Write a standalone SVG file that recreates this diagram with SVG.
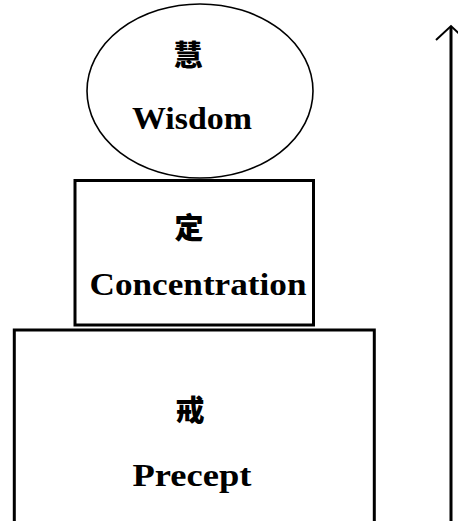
<svg xmlns="http://www.w3.org/2000/svg" width="458" height="521" viewBox="0 0 458 521">
<style>
.box{fill:#fff;stroke:#000;stroke-width:3}
.en{font-family:"Liberation Serif","Times New Roman",serif;font-weight:bold;font-size:32px;fill:#000;text-anchor:middle}
.zh{font-family:"Noto Sans CJK SC","Noto Sans CJK TC",sans-serif;font-weight:900;font-size:29px;fill:#000;text-anchor:middle}
</style>
<rect width="458" height="521" fill="#fff"/>
<g id="precept">
<rect class="box" x="14.3" y="330" width="360" height="220"/>
<text class="zh" x="190" y="421">戒</text>
<text class="en" x="192" y="486" textLength="119" lengthAdjust="spacingAndGlyphs">Precept</text>
</g>
<g id="concentration">
<rect class="box" x="75" y="180.5" width="238.5" height="144.5"/>
<text class="zh" x="189" y="239">定</text>
<text class="en" x="198" y="295" textLength="217" lengthAdjust="spacingAndGlyphs">Concentration</text>
</g>
<g id="wisdom">
<ellipse cx="200" cy="91" rx="113" ry="87" fill="#fff" stroke="#000" stroke-width="1.6"/>
<text class="zh" x="188" y="66">慧</text>
<text class="en" x="192" y="129" textLength="120" lengthAdjust="spacingAndGlyphs">Wisdom</text>
</g>
<g id="connectors">
<line x1="451" y1="27" x2="451" y2="521" stroke="#000" stroke-width="3"/>
<polyline points="436,40 451,26 466,40" fill="none" stroke="#000" stroke-width="2"/>
</g>
</svg>
